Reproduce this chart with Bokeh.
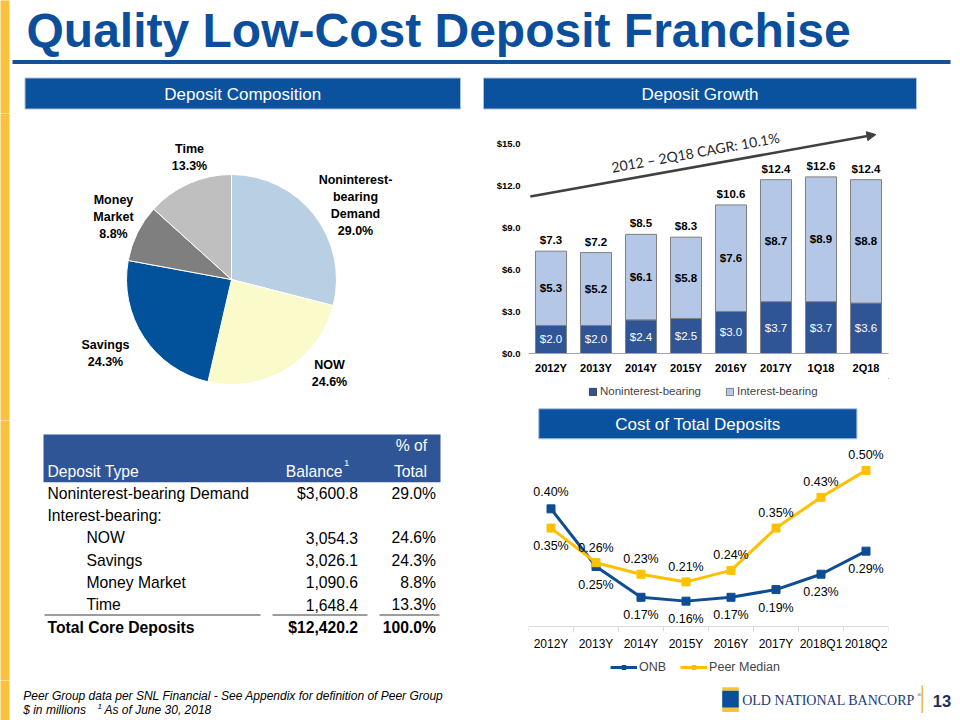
import numpy as np
from bokeh.plotting import figure
from bokeh.models import (Range1d, FactorRange, Legend, LegendItem, Arrow, NormalHead,
                          FixedTicker, NumeralTickFormatter, ColumnDataSource, Span)
from bokeh.layouts import column, row
from bokeh.core.properties import value
from bokeh.embed import file_html
from bokeh.resources import INLINE

# ---------------- data ----------------
deposit_types = ["Noninterest-bearing Demand", "NOW", "Savings", "Money Market", "Time"]
pie_labels = ["Noninterest-\nbearing\nDemand", "NOW", "Savings", "Money\nMarket", "Time"]
balances = [3600.8, 3054.3, 3026.1, 1090.6, 1648.4]
shares = [29.0, 24.6, 24.3, 8.8, 13.3]

growth_periods = ["2012Y", "2013Y", "2014Y", "2015Y", "2016Y", "2017Y", "1Q18", "2Q18"]
nonint = [2.0, 2.0, 2.4, 2.5, 3.0, 3.7, 3.7, 3.6]
intbear = [5.3, 5.2, 6.1, 5.8, 7.6, 8.7, 8.9, 8.8]
totals = [7.3, 7.2, 8.5, 8.3, 10.6, 12.4, 12.6, 12.4]
growth_ticks = [0, 3, 6, 9, 12, 15]
cagr_text = "2012 \u2013 2Q18 CAGR: 10.1%"

cost_periods = ["2012Y", "2013Y", "2014Y", "2015Y", "2016Y", "2017Y", "2018Q1", "2018Q2"]
onb = [0.40, 0.25, 0.17, 0.16, 0.17, 0.19, 0.23, 0.29]
peer = [0.35, 0.26, 0.23, 0.21, 0.24, 0.35, 0.43, 0.50]

# ---------------- styles ----------------
FONT = value("Liberation Sans")
TITLE_BLUE = "#0B4F9C"
BOX_BLUE = "#0B529E"
TABLE_BLUE = "#2F5597"
YELLOW = "#F8C23D"
PIE_COLORS = ["#B9CFE4", "#FAFACB", "#01529B", "#7F7F7F", "#BFBFBF"]
NONINT_C = "#2F5597"
INT_C = "#B4C7E7"
ONB_C = "#0F4D92"
PEER_C = "#FFC000"


def bare(width, height, x_range, y_range):
    return figure(width=width, height=height, x_range=x_range, y_range=y_range,
                  x_axis_type=None, y_axis_type=None, title=None,
                  toolbar_location=None, output_backend="svg",
                  min_border=0, outline_line_color=None)


def canvas(x0, x1, y0, y1):
    return bare(x1 - x0, y1 - y0, Range1d(x0, x1), Range1d(y1, y0))


def put_text(p, x, y, txt, size, color="black", align="left", baseline="middle",
             style="normal", font=FONT, angle=0.0):
    p.text(x=[x], y=[y], text=[txt], text_font=font, text_font_size=f"{size}px",
           text_color=color, text_align=align, text_baseline=baseline,
           text_font_style=style, angle=angle)


def stripe(p, y0, y1):
    p.quad(left=[-2], right=[9], top=[y0 - 2], bottom=[y1 + 2], fill_color=YELLOW, line_color=None)


# ---------------- header ----------------
hdr = canvas(0, 960, 0, 113)
stripe(hdr, 0, 113)
put_text(hdr, 26, 30, "Quality Low-Cost Deposit Franchise", 48, TITLE_BLUE, style="bold")
hdr.quad(left=[12], right=[950], top=[59.5], bottom=[63.5], fill_color="#1B4F94", line_color=None)
hdr.quad(left=[24.5, 483], right=[460, 916], top=[77.5, 77.5], bottom=[108.5, 108.5],
         fill_color=BOX_BLUE, line_color="#A9C0E0", line_width=1)
put_text(hdr, 242.25, 93.5, "Deposit Composition", 17, "white", align="center")
put_text(hdr, 699.5, 93.5, "Deposit Growth", 17, "white", align="center")

# ---------------- pie ----------------
PCX, PCY, PR = 231, 279, 105
pie = bare(470, 307, Range1d(0 - PCX, 470 - PCX), Range1d(PCY - 420, PCY - 113))
pie.quad(left=[-2 - PCX], right=[9 - PCX], top=[PCY - 111], bottom=[PCY - 422],
         fill_color=YELLOW, line_color=None)
frac = np.array(shares) / sum(shares)
cum = np.concatenate([[0.0], np.cumsum(frac)])
pie.wedge(x=0, y=0, radius=PR,
          start_angle=list(np.pi / 2 - 2 * np.pi * cum[:-1]),
          end_angle=list(np.pi / 2 - 2 * np.pi * cum[1:]),
          direction="clock", fill_color=PIE_COLORS, line_color="white", line_width=1)
pie_label_xy = [(124, 74), (98, -94), (-126, -74), (-118, 62.5), (-42, 122)]
pie.text(x=[xy[0] for xy in pie_label_xy], y=[xy[1] for xy in pie_label_xy],
         text=[f"{l}\n{s:.1f}%" for l, s in zip(pie_labels, shares)],
         text_font=FONT, text_font_size="12.5px", text_font_style="bold",
         text_align="center", text_baseline="middle", text_line_height=1.2,
         text_color="black")

# ---------------- table ----------------
tbl = canvas(0, 470, 420, 680)
stripe(tbl, 420, 680)
tbl.quad(left=[43], right=[440], top=[434], bottom=[481.7], fill_color=TABLE_BLUE, line_color=None)
TS = 15.7
put_text(tbl, 47, 471, "Deposit Type", TS, "white")
put_text(tbl, 342, 471, "Balance", TS, "white", align="right")
put_text(tbl, 343.5, 462, "1", 9.5, "white")
put_text(tbl, 411, 445, "% of", TS, "white", align="center")
put_text(tbl, 410, 471, "Total", TS, "white", align="center")

row_y = [493, 515.2, 537.4, 559.6, 581.8, 604]
row_lbl = [deposit_types[0], "Interest-bearing:"] + deposit_types[1:]
row_x = [47, 47, 86, 86, 86, 86]
bal_txt = [f"${balances[0]:,.1f}", ""] + [f"{b:,.1f}" for b in balances[1:]]
pct_txt = [f"{shares[0]:.1f}%", ""] + [f"{s:.1f}%" for s in shares[1:]]
for lbl, x, y, b, s in zip(row_lbl, row_x, row_y, bal_txt, pct_txt):
    put_text(tbl, x, y, lbl, TS)
    if b:
        put_text(tbl, 357.5, y, b, TS, align="right")
        put_text(tbl, 435.5, y, s, TS, align="right")
tbl.segment(x0=[44, 272, 379], x1=[260, 367, 439], y0=[614.5] * 3, y1=[614.5] * 3,
            line_color="#3A3A3A", line_width=1)
put_text(tbl, 47, 627, "Total Core Deposits", TS, style="bold")
put_text(tbl, 357.5, 627, f"${sum(balances):,.1f}", TS, align="right", style="bold")
put_text(tbl, 435.5, 627, f"{sum(shares):.1f}%", TS, align="right", style="bold")

# ---------------- bar chart ----------------
bar = figure(width=490, height=265, x_range=FactorRange(*growth_periods),
             y_range=Range1d(0, 16.48), title=None, toolbar_location=None,
             output_backend="svg", min_border_left=58, min_border_right=72,
             min_border_top=9, min_border_bottom=25, outline_line_color=None)
src = ColumnDataSource(dict(
    x=growth_periods, nonint=nonint, intbear=intbear, totals=totals,
    top2=[a + b for a, b in zip(nonint, intbear)],
    mid1=[a / 2 for a in nonint],
    mid2=[a + b / 2 for a, b in zip(nonint, intbear)],
    t1=[f"${v:.1f}" for v in nonint], t2=[f"${v:.1f}" for v in intbear],
    tt=[f"${v:.1f}" for v in totals]))
bar.vbar(x="x", bottom=0, top="nonint", width=0.69, source=src,
         fill_color=NONINT_C, line_color="#7F7F7F", line_width=1)
bar.vbar(x="x", bottom="nonint", top="top2", width=0.69, source=src,
         fill_color=INT_C, line_color="#7F7F7F", line_width=1)
bar.text(x="x", y="mid1", text="t1", source=src, text_font=FONT, text_font_size="11.5px",
         text_color="white", text_align="center", text_baseline="middle")
bar.text(x="x", y="mid2", text="t2", source=src, text_font=FONT, text_font_size="11.5px",
         text_font_style="bold", text_color="black", text_align="center", text_baseline="middle")
bar.text(x="x", y="totals", text="tt", source=src, text_font=FONT, text_font_size="11.5px",
         text_font_style="bold", text_color="black", text_align="center",
         text_baseline="middle", y_offset=-11)
bar.add_layout(Arrow(end=NormalHead(size=9, fill_color="#404040", line_color="#404040"),
                     x_start=0.04, y_start=11.2, x_end=7.72, y_end=15.62,
                     line_color="#404040", line_width=2.5))
bar.text(x=[3.71], y=[14.36], text=[cagr_text], angle=0.178, text_font=value("Lato"),
         text_font_size="14px", text_color="#262626", text_align="center",
         text_baseline="middle")
bar.xgrid.visible = False
bar.ygrid.visible = False
bar.yaxis.ticker = FixedTicker(ticks=growth_ticks)
bar.yaxis.formatter = NumeralTickFormatter(format="$0.0")
bar.yaxis.axis_line_color = None
bar.yaxis.major_tick_line_color = None
bar.yaxis.minor_tick_line_color = None
bar.yaxis.major_tick_out = 0
bar.yaxis.major_tick_in = 0
bar.yaxis.major_label_text_font = "Liberation Sans"
bar.yaxis.major_label_text_font_size = "9.5px"
bar.yaxis.major_label_text_font_style = "bold"
bar.yaxis.major_label_text_color = "black"
bar.yaxis.major_label_standoff = 8
bar.xaxis.axis_line_color = "#A6A6A6"
bar.xaxis.major_tick_line_color = None
bar.xaxis.major_tick_out = 0
bar.xaxis.major_tick_in = 0
bar.xaxis.major_label_text_font = "Liberation Sans"
bar.xaxis.major_label_text_font_size = "11px"
bar.xaxis.major_label_text_font_style = "bold"
bar.xaxis.major_label_text_color = "black"
bar.xaxis.major_label_standoff = 8

# legend strip for the bar chart (swatch renderers sit outside the visible range)
bleg_fig = bare(490, 22, Range1d(0, 1), Range1d(0, 1))
lr1 = bleg_fig.vbar(x=[10], top=[10], bottom=[9], width=0.5, fill_color=NONINT_C, line_color="#404040")
lr2 = bleg_fig.vbar(x=[10], top=[10], bottom=[9], width=0.5, fill_color=INT_C, line_color="#7F7F7F")
bleg_fig.add_layout(Legend(
    items=[LegendItem(label="Noninterest-bearing", renderers=[lr1]),
           LegendItem(label="Interest-bearing", renderers=[lr2])],
    orientation="horizontal", location=(60, 3), glyph_width=9, glyph_height=9,
    label_text_font="Liberation Sans", label_text_font_size="11.5px",
    label_standoff=3, spacing=24, padding=0, margin=0, label_height=12,
    border_line_color=None, background_fill_alpha=0))

# ---------------- cost header ----------------
chd = canvas(470, 960, 400, 440)
chd.quad(left=[484], right=[917], top=[408.3], bottom=[438.3], fill_color=BOX_BLUE,
         line_color="#A9C0E0", line_width=1)
put_text(chd, 700.5, 423.5, "Cost of Total Deposits", 17, "white", align="center")

# ---------------- line chart ----------------
AXIS_V = 0.094       # value where the category axis line sits
TICK_LEN = 0.013     # length of the between-category tick marks (value units)
ln = figure(width=490, height=215, x_range=FactorRange(*cost_periods),
            y_range=Range1d(AXIS_V - TICK_LEN, 0.570), y_axis_type=None, title=None,
            toolbar_location=None, output_backend="svg", min_border_left=16,
            min_border_right=60, min_border_top=3, min_border_bottom=24,
            outline_line_color=None)
ln.add_layout(Span(location=AXIS_V, dimension="width", line_color="#D9D9D9", line_width=1))
nb = len(cost_periods) + 1
ln.segment(x0=list(range(nb)), x1=list(range(nb)), y0=[AXIS_V] * nb,
           y1=[AXIS_V - TICK_LEN] * nb, line_color="#D9D9D9", line_width=1)
onb_off = [-17] + [18] * 7
peer_off = [18] + [-15] * 7
lsrc = ColumnDataSource(dict(
    x=cost_periods, onb=onb, peer=peer,
    onb_t=[f"{v:.2f}%" for v in onb], peer_t=[f"{v:.2f}%" for v in peer],
    onb_off=onb_off, peer_off=peer_off))
ln.line(x="x", y="onb", source=lsrc, line_color=ONB_C, line_width=3)
ln.scatter(x="x", y="onb", source=lsrc, marker="square", size=8, fill_color=ONB_C,
           line_color=ONB_C)
ln.line(x="x", y="peer", source=lsrc, line_color=PEER_C, line_width=3)
ln.scatter(x="x", y="peer", source=lsrc, marker="square", size=8, fill_color=PEER_C,
           line_color=PEER_C)
ln.text(x="x", y="onb", text="onb_t", y_offset="onb_off", source=lsrc, text_font=FONT,
        text_font_size="12.5px", text_color="black", text_align="center",
        text_baseline="middle")
ln.text(x="x", y="peer", text="peer_t", y_offset="peer_off", source=lsrc, text_font=FONT,
        text_font_size="12.5px", text_color="black", text_align="center",
        text_baseline="middle")
ln.xgrid.visible = False
ln.ygrid.visible = False
ln.xaxis.axis_line_color = None
ln.xaxis.major_tick_line_color = None
ln.xaxis.major_tick_out = 0
ln.xaxis.major_tick_in = 0
ln.xaxis.major_label_text_font = "Liberation Sans"
ln.xaxis.major_label_text_font_size = "12px"
ln.xaxis.major_label_text_color = "black"
ln.xaxis.major_label_standoff = 5

lleg_fig = bare(490, 25, Range1d(0, 1), Range1d(0, 1))
ll1 = lleg_fig.line(x=[5, 6], y=[5, 5], line_color=ONB_C, line_width=3)
ls1 = lleg_fig.scatter(x=[5], y=[5], marker="square", size=8, fill_color=ONB_C, line_color=ONB_C)
ll2 = lleg_fig.line(x=[5, 6], y=[5, 5], line_color=PEER_C, line_width=3)
ls2 = lleg_fig.scatter(x=[5], y=[5], marker="square", size=8, fill_color=PEER_C, line_color=PEER_C)
lleg_fig.add_layout(Legend(
    items=[LegendItem(label="ONB", renderers=[ll1, ls1]),
           LegendItem(label="Peer Median", renderers=[ll2, ls2])],
    orientation="horizontal", location=(82, 6), glyph_width=27, glyph_height=10,
    label_text_font="Liberation Sans", label_text_font_size="12.5px",
    label_standoff=2, spacing=14, padding=0, margin=0, label_height=12,
    border_line_color=None, background_fill_alpha=0))

# ---------------- footer ----------------
ftr = canvas(0, 960, 680, 720)
stripe(ftr, 680, 720)
put_text(ftr, 22.7, 695, "Peer Group data per SNL Financial - See Appendix for definition of Peer Group",
         12, style="italic")
put_text(ftr, 22.7, 709.5, "$ in millions", 12, style="italic")
put_text(ftr, 97, 706, "1", 8, style="italic")
put_text(ftr, 104, 709.5, "As of June 30, 2018", 12, style="italic")
ftr.quad(left=[721.7], right=[738.3], top=[686.7], bottom=[690.2], fill_color=YELLOW, line_color=None)
ftr.quad(left=[721.7], right=[738.3], top=[690.2], bottom=[707.3], fill_color="#0B4F9C", line_color=None)
ftr.quad(left=[721.7], right=[738.3], top=[707.3], bottom=[711.5], fill_color=YELLOW, line_color=None)
put_text(ftr, 741.7, 700, "OLD NATIONAL BANCORP", 14, "#1B3A78", font=value("Liberation Serif"))
put_text(ftr, 916.5, 694, "\u00ae", 6, "#1B3A78", font=value("Liberation Serif"))
ftr.segment(x0=[921.7], x1=[921.7], y0=[685], y1=[712.5], line_color="#E8B84A", line_width=1.5)
put_text(ftr, 941.5, 700, "13", 16.5, "#1B2F5B", align="center", style="bold")

layout = column(hdr,
                row(column(pie, tbl), column(bar, bleg_fig, chd, ln, lleg_fig)),
                ftr)

open("out.html", "w").write(file_html(layout, INLINE))
